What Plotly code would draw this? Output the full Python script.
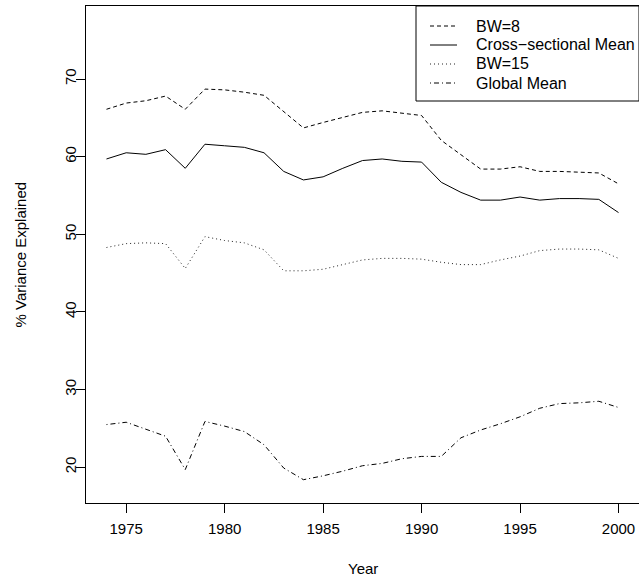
import plotly.graph_objects as go

years = list(range(1974, 2001))
bw8 = [66.1, 66.9, 67.2, 67.8, 66.1, 68.7, 68.6, 68.3, 67.9, 65.8, 63.7, 64.4, 65.1, 65.7,
       65.9, 65.6, 65.3, 62.1, 60.2, 58.4, 58.4, 58.7, 58.1, 58.1, 58.0, 57.9, 56.5]
cross_mean = [59.7, 60.5, 60.3, 60.9, 58.5, 61.6, 61.4, 61.2, 60.5, 58.1, 57.0, 57.4, 58.5, 59.5,
              59.7, 59.4, 59.3, 56.7, 55.4, 54.4, 54.4, 54.8, 54.4, 54.6, 54.6, 54.5, 52.8]
bw15 = [48.3, 48.8, 48.9, 48.8, 45.6, 49.7, 49.2, 48.9, 48.0, 45.3, 45.3, 45.5, 46.1, 46.7,
        46.9, 46.9, 46.8, 46.4, 46.1, 46.1, 46.7, 47.2, 47.9, 48.1, 48.1, 48.0, 46.9]
global_mean = [25.5, 25.8, 24.9, 24.0, 19.7, 25.9, 25.3, 24.6, 22.9, 19.9, 18.4, 18.9, 19.5, 20.2,
               20.5, 21.1, 21.4, 21.4, 23.8, 24.8, 25.6, 26.5, 27.6, 28.2, 28.3, 28.5, 27.7]
x_ticks = [1975, 1980, 1985, 1990, 1995, 2000]
y_ticks = [20, 30, 40, 50, 60, 70]

series_names = ["BW=8", "Cross\u2212sectional Mean", "BW=15", "Global Mean"]
series_values = [bw8, cross_mean, bw15, global_mean]
series_dash = ["4px,3px", "solid", "1px,3px", "1px,3px,5px,3px"]
series_color = ["#000000", "#000000", "#222222", "#000000"]

FONT = "Liberation Sans, Arial, Helvetica, sans-serif"

# plot-area geometry in pixels (for the hand-made R-style legend)
W, H = 639, 580
ML, MR, MT, MB = 86, 0, 6, 77
PW, PH = W - ML - MR, H - MT - MB


def px_x(p):
    return (p - ML) / PW


def px_y(p):
    return (H - MB - p) / PH


fig = go.Figure()
for name, vals, dash, col in zip(series_names, series_values, series_dash, series_color):
    fig.add_trace(go.Scatter(x=years, y=vals, mode="lines", name=name, showlegend=False,
                             line=dict(color=col, width=1, dash=dash)))

axis_common = dict(showline=True, linecolor="black", linewidth=1, mirror=True,
                   ticks="outside", ticklen=9, tickwidth=1, tickcolor="black",
                   showgrid=False, zeroline=False,
                   tickfont=dict(family=FONT, size=15, color="black"))

fig.update_xaxes(range=[1972.96, 2001.04], tickvals=x_ticks,
                 ticklabelstandoff=3, **axis_common)
fig.update_yaxes(range=[15.4, 79.4], tickvals=y_ticks, tickangle=-90,
                 ticklabelstandoff=-6, **axis_common)

shapes = [dict(type="rect", xref="paper", yref="paper",
               x0=px_x(416), x1=1.0, y0=px_y(101), y1=1.0,
               line=dict(color="black", width=1), fillcolor="white", layer="above")]
annotations = []
row_y = [26, 45, 64, 83]
for name, dash, col, ry in zip(series_names, series_dash, series_color, row_y):
    shapes.append(dict(type="line", xref="paper", yref="paper",
                       x0=px_x(430), x1=px_x(457), y0=px_y(ry), y1=px_y(ry),
                       line=dict(color=col, width=1, dash=dash), layer="above"))
    annotations.append(dict(text=name, xref="paper", yref="paper", x=px_x(474), y=px_y(ry),
                            xanchor="left", yanchor="middle", showarrow=False,
                            font=dict(family=FONT, size=16, color="black")))

annotations += [
    dict(text="Year", xref="paper", yref="paper", x=0.5, y=px_y(568),
         xanchor="center", yanchor="middle", showarrow=False,
         font=dict(family=FONT, size=15, color="black")),
    dict(text="% Variance Explained", xref="paper", yref="paper", x=px_x(20), y=0.5,
         xanchor="center", yanchor="middle", showarrow=False, textangle=-90,
         font=dict(family=FONT, size=15, color="black")),
]

fig.update_layout(
    width=W, height=H,
    margin=dict(l=ML, r=MR, t=MT, b=MB),
    paper_bgcolor="white", plot_bgcolor="white",
    font=dict(family=FONT, size=15, color="black"),
    showlegend=False,
    shapes=shapes,
    annotations=annotations,
)

fig.write_html("out.html")
